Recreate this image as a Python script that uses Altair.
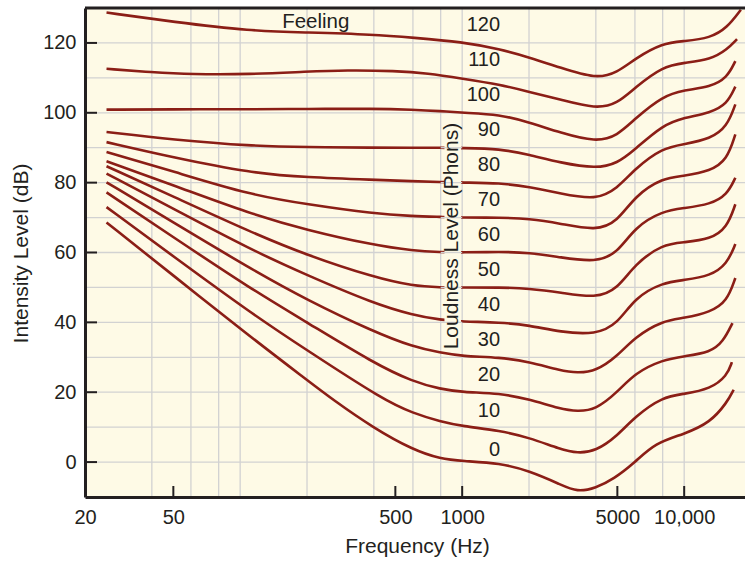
import altair as alt
import pandas as pd

# ---------------- data ----------------
PHONS = [0, 10, 20, 30, 40, 50, 60, 70, 80, 90, 100, 110, 120]

F_STD = [25, 50, 111, 200, 400, 600, 800, 1000, 1480, 2000, 2770, 4000, 5000,
         6000, 8000, 10000, 13100, 15600, 17000]
F_LOW = [25, 50, 111, 200, 400, 600, 800, 1000, 1480, 2000, 2770, 3300, 4000,
         5000, 6000, 8000, 10000, 13100, 15600, 17000]

F_0 = [25, 50, 111, 200, 262, 400, 600, 800, 1000, 1480, 2000, 2770, 3300, 4000,
       4800, 6000, 7400, 10000, 13100, 15600, 16700]
L_0 = [68.6, 53.4, 35.9, 23.5, 17.8, 9.7, 3.5, 0.9, 0.3, -0.3, -2.5, -6.4, -8.6, -7.4,
       -4.9, -0.1, 5.5, 8.0, 11.3, 17.1, 20.7]

F_10 = [25, 50, 111, 200, 442, 600, 800, 1000, 1480, 2000, 2770, 3300, 4000, 5000,
        6000, 8000, 10000, 13100, 15600, 16400]
L_10 = [73.0, 58.9, 42.8, 32.0, 17.8, 14.0, 11.6, 10.3, 9.0, 7.0, 3.7, 2.5, 3.1, 7.5,
        13.0, 18.7, 19.5, 20.9, 24.7, 28.6]

F_20 = [25, 50, 111, 200, 400, 600, 800, 1000, 1480, 2000, 2770, 3300, 4000, 5000,
        6000, 8000, 10000, 13100, 15000, 16500]
L_20 = [77.2, 64.4, 49.7, 40.0, 28.3, 23.0, 20.9, 20.0, 19.7, 18.0, 15.2, 14.5, 15.0, 20.0,
        25.5, 29.3, 30.3, 31.4, 34.5, 39.8]

F_30 = F_LOW
L_30 = [80.1, 68.6, 55.4, 46.4, 37.3, 33.0, 31.3, 30.3, 30.0, 28.7, 26.2, 25.5, 26.0,
        30.3, 35.8, 40.5, 41.2, 42.9, 46.0, 52.7]

F_40 = F_STD
L_40 = [82.6, 72.5, 60.9, 53.5, 45.4, 42.1, 40.7, 40.2, 40.0, 39.2, 37.2, 36.5, 39.5,
        47.1, 51.4, 52.1, 53.3, 56.7, 62.4]
F_50 = F_STD
L_50 = [84.7, 76.0, 65.9, 59.2, 52.9, 50.4, 50.0, 50.0, 50.0, 49.7, 48.6, 46.9, 49.5,
        56.7, 62.4, 62.9, 63.8, 67.1, 73.8]
F_60 = F_STD
L_60 = [86.1, 79.3, 71.1, 66.4, 62.1, 60.5, 60.1, 60.0, 60.2, 60.0, 58.6, 57.2, 59.8,
        67.3, 71.9, 72.7, 73.8, 76.5, 81.4]
F_70 = F_STD
L_70 = [88.8, 83.2, 76.5, 73.8, 71.1, 70.4, 70.2, 70.0, 70.0, 69.7, 68.3, 66.2, 68.8,
        76.2, 81.4, 81.9, 83.3, 86.5, 93.8]
F_80 = F_STD
L_80 = [91.6, 87.2, 82.8, 81.5, 80.8, 80.4, 80.2, 80.0, 79.9, 78.8, 76.9, 75.0, 78.3,
        84.0, 90.0, 91.0, 92.5, 96.0, 102.4]
F_90 = F_STD
L_90 = [94.5, 92.3, 90.5, 90.2, 90.0, 90.0, 90.0, 89.9, 89.7, 88.0, 85.7, 84.0, 85.5,
        89.5, 96.5, 98.6, 100.0, 102.5, 107.5]
F_100 = F_STD
L_100 = [100.9, 101.0, 101.0, 101.1, 101.2, 100.9, 100.5, 100.0, 99.5, 97.3, 94.3, 91.6,
         93.4, 98.3, 104.8, 106.5, 107.4, 110.0, 114.8]

F_110 = [25, 40, 60, 111, 200, 300, 500, 700, 1000, 1480, 2000, 2770, 4000, 5000,
         6000, 8000, 10000, 13100, 15600, 17300]
L_110 = [112.6, 111.6, 111.0, 111.0, 111.8, 112.2, 112.0, 111.3, 109.8, 108.1, 106.0,
         103.8, 101.1, 102.6, 107.2, 113.3, 114.3, 115.2, 118.1, 121.1]

F_120 = [25, 50, 111, 200, 400, 600, 1000, 1480, 2000, 2770, 4000, 5000, 6000, 8000,
         10000, 13100, 15600, 18000]
L_120 = [128.7, 126.0, 123.4, 123.0, 122.4, 121.5, 120.3, 118.2, 115.9, 112.9, 109.7,
         111.5, 115.5, 120.0, 120.5, 121.4, 124.3, 129.5]

CURVE_FREQS = [F_0, F_10, F_20, F_30, F_40, F_50, F_60, F_70, F_80, F_90, F_100, F_110, F_120]
CURVE_LEVELS = [L_0, L_10, L_20, L_30, L_40, L_50, L_60, L_70, L_80, L_90, L_100, L_110, L_120]

PHON_LABELS = ["0", "10", "20", "30", "40", "50", "60", "70", "80", "90", "100", "110", "120"]
PHON_LABEL_DB = [3.5, 14.5, 25, 35, 45, 55, 65, 75, 85, 95, 105, 115, 125]
PHON_LABEL_FREQ = 1482

X_TICK_VALUES = [20, 50, 500, 1000, 5000, 10000]
X_TICK_MARKS = [50, 500, 1000, 5000, 10000]
Y_TICK_VALUES = [0, 20, 40, 60, 80, 100, 120]
GRID_FREQS = [40, 60, 80, 100, 200, 400, 600, 800, 1000, 2000, 4000, 6000, 8000, 10000]
GRID_DB = [0, 10, 20, 30, 40, 50, 60, 70, 80, 90, 100, 110, 120]

# ---------------- styling ----------------
W, H = 660, 489
CREAM = "#fefae6"
RED = "#8b1e16"
DARK = "#231f20"
GRIDC = "#d2d2d2"
FONT = "Liberation Sans"

XS = alt.Scale(type="log", domain=[20, 18790], nice=False)
YS = alt.Scale(domain=[-10, 130], nice=False, zero=False)

XA = alt.Axis(
    values=X_TICK_VALUES,
    labelExpr="datum.value >= 10000 ? format(datum.value, ',') : format(datum.value, 'd')",
    ticks=False, grid=False, domainColor=DARK, domainWidth=3, labelColor=DARK,
    labelFont=FONT, labelFontSize=20, labelPadding=10, labelFlush=False, labelOverlap=False,
    title="Frequency (Hz)", titleFont=FONT, titleFontSize=21, titleFontWeight="normal",
    titleColor=DARK, titleX=332, titleY=55, titleAlign="center", titleBaseline="alphabetic",
    zindex=1,
)
YA = alt.Axis(
    values=Y_TICK_VALUES, format="d", ticks=False, grid=False, domainColor=DARK, domainWidth=3,
    labelColor=DARK, labelFont=FONT, labelFontSize=20, labelPadding=9, labelFlush=False,
    labelOverlap=False,
    title="Intensity Level (dB)", titleFont=FONT, titleFontSize=21, titleFontWeight="normal",
    titleColor=DARK, titleX=-58, titleY=245, titleAngle=270, titleAlign="center",
    titleBaseline="alphabetic", zindex=1,
)


def X(field):
    return alt.X(field, type="quantitative", scale=XS, axis=XA)


def Y(field):
    return alt.Y(field, type="quantitative", scale=YS, axis=YA)


rows = []
for p, fs, ls in zip(PHONS, CURVE_FREQS, CURVE_LEVELS):
    for f, l in zip(fs, ls):
        rows.append({"phon": p, "freq": f, "db": l})
curves_df = pd.DataFrame(rows)

grid_v = alt.Chart(pd.DataFrame({"freq": GRID_FREQS})).mark_rule(
    color=GRIDC, strokeWidth=1.3
).encode(x=X("freq"), y=alt.value(0), y2=alt.value(H))

grid_h = alt.Chart(pd.DataFrame({"db": GRID_DB})).mark_rule(
    color=GRIDC, strokeWidth=1.3
).encode(y=Y("db"), x=alt.value(0), x2=alt.value(W))

curves = alt.Chart(curves_df).mark_line(
    color=RED, strokeWidth=2.6, interpolate="basis"
).encode(
    x=X("freq"),
    y=Y("db"),
    detail="phon:N",
    order="freq:Q",
)

mask = alt.Chart(pd.DataFrame({"freq": [832], "f2": [988], "db": [32.5], "d2": [98.5]})).mark_rect(
    color=CREAM
).encode(x=X("freq"), x2="f2:Q", y=Y("db"), y2="d2:Q")

mask_grid = alt.Chart(pd.DataFrame({"db": [40, 50, 60, 70, 80, 90]})).mark_rule(
    color=GRIDC, strokeWidth=1.3
).encode(y=Y("db"), x=X("a"), x2="b:Q").transform_calculate(a="800", b="1000")

phon_text = alt.Chart(pd.DataFrame({"t": PHON_LABELS, "db": PHON_LABEL_DB})).mark_text(
    font=FONT, fontSize=20, color=DARK, align="right", baseline="middle"
).encode(x=X("freq"), y=Y("db"), text="t:N").transform_calculate(freq=str(PHON_LABEL_FREQ))

feeling = alt.Chart(pd.DataFrame({"t": ["Feeling"], "freq": [219], "db": [124.2]})).mark_text(
    font=FONT, fontSize=20.5, color=DARK, align="center", baseline="alphabetic"
).encode(x=X("freq"), y=Y("db"), text="t:N")

loud = alt.Chart(pd.DataFrame({"t": ["Loudness Level (Phons)"], "freq": [960], "db": [64.7]})).mark_text(
    font=FONT, fontSize=21, color=DARK, align="center", baseline="alphabetic", angle=270
).encode(x=X("freq"), y=Y("db"), text="t:N")

y_ticks = alt.Chart(pd.DataFrame({"db": Y_TICK_VALUES})).mark_rule(color=DARK, strokeWidth=2).encode(
    y=Y("db"), x=alt.value(0), x2=alt.value(12)
)
x_ticks = alt.Chart(pd.DataFrame({"freq": X_TICK_MARKS})).mark_rule(color=DARK, strokeWidth=2).encode(
    x=X("freq"), y=alt.value(H - 11), y2=alt.value(H)
)
top_border = alt.Chart(pd.DataFrame({"a": [0]})).mark_rule(color=DARK, strokeWidth=3).encode(
    x=alt.value(0), x2=alt.value(W), y=alt.value(0)
)

chart = alt.layer(
    grid_v, grid_h, curves, mask, mask_grid, phon_text, feeling, loud, y_ticks, x_ticks, top_border
).properties(
    width=W, height=H,
    autosize=alt.AutoSizeParams(type="none"),
    padding={"left": 85, "top": 8, "right": 0, "bottom": 64},
    background="white",
).configure_view(stroke=None, fill=CREAM)

chart.save("out.html", embed_options={"renderer": "svg", "actions": False})
